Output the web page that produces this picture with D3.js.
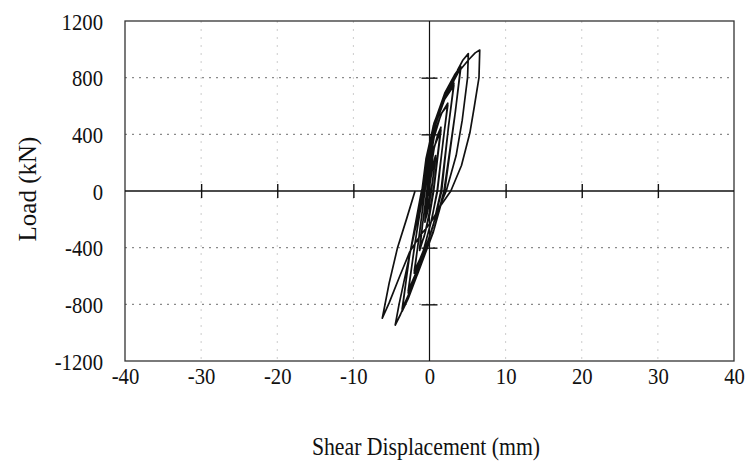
<!DOCTYPE html>
<html>
<head>
<meta charset="utf-8">
<script src="https://cdn.jsdelivr.net/npm/d3@7"></script>
<style>
  html, body { margin: 0; padding: 0; background: #fff; }
  svg { display: block; }
  text { font-family: "Liberation Serif", "Times New Roman", serif; fill: #111; }
</style>
</head>
<body>
<div id="chart"></div>
<script>
// ---- data: shear displacement (mm), load (kN) ----
const xTicks = [-40, -30, -20, -10, 0, 10, 20, 30, 40];
const yTicks = [-1200, -800, -400, 0, 400, 800, 1200];
const xLabel = "Shear Displacement (mm)";
const yLabel = "Load (kN)";

const cycle1a = [[0,0],[0.1,80],[0.4,180],[0.8,250],[0.6,150],[0.2,0],[-0.1,-80],[-0.35,-160],[-0.6,-220],[-0.4,-110],[-0.1,0]];
const cycle1b = [[-0.1,0],[0.2,100],[0.5,190],[0.8,235],[0.55,130],[0.25,0],[-0.05,-90],[-0.35,-170],[-0.6,-210],[-0.35,-100],[-0.1,0]];
const cycle2a = [[-0.1,0],[0.1,130],[0.6,300],[1.1,400],[1.5,450],[1.1,270],[0.5,0],[0.0,-150],[-0.6,-300],[-1.3,-420],[-0.9,-230],[-0.3,0]];
const cycle2b = [[-0.3,0],[0.0,140],[0.6,310],[1.5,430],[1.1,250],[0.55,0],[0.05,-160],[-0.7,-320],[-1.3,-405],[-0.85,-210],[-0.35,0]];
const cycle3a = [[-0.35,0],[-0.05,170],[0.6,380],[1.5,540],[2.4,620],[1.9,400],[1.0,0],[0.3,-200],[-0.8,-420],[-2.0,-580],[-1.4,-330],[-0.6,0]];
const cycle3b = [[-0.6,0],[-0.2,170],[0.5,390],[1.6,550],[2.4,605],[1.8,360],[1.05,0],[0.2,-220],[-0.9,-440],[-2.0,-565],[-1.3,-300],[-0.65,0]];
const cycle4a = [[-0.65,0],[-0.3,200],[0.4,420],[1.7,620],[3.2,760],[2.6,500],[1.5,0],[0.5,-240],[-1.1,-500],[-2.8,-720],[-2.0,-400],[-0.8,0]];
const cycle4b = [[-0.8,0],[-0.35,210],[0.5,440],[1.9,640],[3.2,745],[2.5,460],[1.6,0],[0.4,-260],[-1.3,-520],[-2.8,-705],[-1.9,-370],[-0.85,0]];
const cycle5a = [[-0.85,0],[-0.4,220],[0.5,460],[2.0,690],[3.3,820],[4.1,880],[3.4,560],[1.9,0],[0.6,-270],[-1.4,-560],[-2.8,-760],[-3.6,-850],[-2.7,-480],[-1.0,0]];
const cycle5b = [[-1.0,0],[-0.45,230],[0.6,480],[2.2,700],[4.1,865],[3.3,520],[2.0,0],[0.5,-290],[-1.6,-590],[-3.6,-835],[-2.6,-450],[-1.05,0]];
const cycle6 = [[-1.05,0],[-0.3,127],[0.5,409],[1.4,593],[2.0,678],[3.1,762],[3.7,854],[4.4,925],[5.1,970],[5.0,800],[4.3,500],[3.5,250],[2.2,0],[1.0,-150],[-0.3,-370],[-1.5,-560],[-2.8,-740],[-3.8,-870],[-4.5,-946],[-4.0,-800],[-2.8,-500],[-1.6,-200],[-1.0,0]];
const cycle7 = [[-1.0,0],[-0.4,200],[0.6,440],[2.2,680],[3.8,840],[5.2,930],[6.0,975],[6.6,995],[6.5,800],[5.9,600],[5.3,409],[4.2,180],[2.8,0],[1.5,-100],[0.2,-220],[-1.3,-320],[-2.6,-430],[-3.9,-600],[-5.3,-790],[-6.2,-898],[-5.3,-650],[-4.2,-400],[-3.0,-195],[-1.9,0]];
const cycles = [cycle1a, cycle1b, cycle2a, cycle2b, cycle3a, cycle3b, cycle4a, cycle4b, cycle5a, cycle5b, cycle6, cycle7];

// ---- layout ----
const W = 749, H = 466;
const plot = { left: 125, right: 734, top: 21, bottom: 361 };

const svg = d3.select("#chart").append("svg").attr("width", W).attr("height", H);

const x = d3.scaleLinear().domain([-40, 40]).range([plot.left, plot.right]);
const y = d3.scaleLinear().domain([-1200, 1200]).range([plot.bottom, plot.top]);

const fmt = d => String(d);

// gridlines
const gridY = yTicks.filter(v => v !== 0 && Math.abs(v) !== 1200);
const gridX = xTicks.filter(v => v !== 0 && Math.abs(v) !== 40);

svg.append("g").selectAll("line").data(gridY).join("line")
  .attr("x1", plot.left).attr("x2", plot.right)
  .attr("y1", d => y(d)).attr("y2", d => y(d))
  .attr("stroke", "#8a8a8a").attr("stroke-width", 1.2).attr("stroke-dasharray", "2,5");

svg.append("g").selectAll("line").data(gridX).join("line")
  .attr("y1", plot.top).attr("y2", plot.bottom)
  .attr("x1", d => x(d)).attr("x2", d => x(d))
  .attr("stroke", "#cccccc").attr("stroke-width", 1).attr("stroke-dasharray", "2,6");

// frame
svg.append("rect")
  .attr("x", plot.left).attr("y", plot.top)
  .attr("width", plot.right - plot.left).attr("height", plot.bottom - plot.top)
  .attr("fill", "none").attr("stroke", "#333").attr("stroke-width", 1.3);

// zero axes with ticks through d3 axes
const xAxisZero = d3.axisBottom(x).tickValues(gridX).tickSize(7).tickFormat("");
const gx = svg.append("g").attr("transform", `translate(0,${y(0)})`).call(xAxisZero);
gx.select(".domain").attr("stroke", "#111").attr("stroke-width", 1.4).attr("d", `M${plot.left},0H${plot.right}`);
gx.selectAll(".tick line").attr("y1", -7).attr("y2", 7).attr("stroke", "#111").attr("stroke-width", 1.4);

const yAxisZero = d3.axisLeft(y).tickValues(gridY).tickSize(8).tickFormat("");
const gy = svg.append("g").attr("transform", `translate(${x(0)},0)`).call(yAxisZero);
gy.select(".domain").attr("stroke", "#111").attr("stroke-width", 1.2).attr("d", `M0,${plot.top}V${plot.bottom}`);
gy.selectAll(".tick line").attr("x1", -8).attr("x2", 8).attr("stroke", "#111").attr("stroke-width", 1.4);

// tick labels
const xLab = d3.axisBottom(x).tickValues(xTicks).tickSize(0).tickPadding(0).tickFormat(fmt);
const gxl = svg.append("g").attr("transform", `translate(0,${plot.bottom})`).call(xLab);
gxl.select(".domain").remove();
gxl.selectAll("text")
  .attr("y", 0).attr("dy", 0).attr("x", 0)
  .attr("transform", "translate(0,23) scale(0.9,1)")
  .style("font-size", "23px").attr("fill", "#111");

const yLab = d3.axisLeft(y).tickValues(yTicks).tickSize(0).tickPadding(0).tickFormat(fmt);
const gyl = svg.append("g").attr("transform", `translate(103,0)`).call(yLab);
gyl.select(".domain").remove();
gyl.selectAll("text")
  .attr("x", 0).attr("dy", "0.35em")
  .attr("transform", "scale(0.9,1)")
  .style("font-size", "23px").attr("fill", "#111");

// axis titles
svg.append("text")
  .attr("transform", `translate(426,455) scale(0.87,1)`)
  .attr("text-anchor", "middle")
  .style("font-size", "25px")
  .text(xLabel);

svg.append("text")
  .attr("transform", `translate(36,189) rotate(-90)`)
  .attr("text-anchor", "middle")
  .style("font-size", "25px")
  .text(yLabel);

// hysteresis curve
const line = d3.line().x(d => x(d[0])).y(d => y(d[1]));
const path = cycles.flatMap((c, i) => i === 0 ? c : c.slice(1));
svg.append("path")
  .datum(path)
  .attr("d", line)
  .attr("fill", "none")
  .attr("stroke", "#111")
  .attr("stroke-width", 1.7)
  .attr("stroke-linejoin", "round");
</script>
</body>
</html>
